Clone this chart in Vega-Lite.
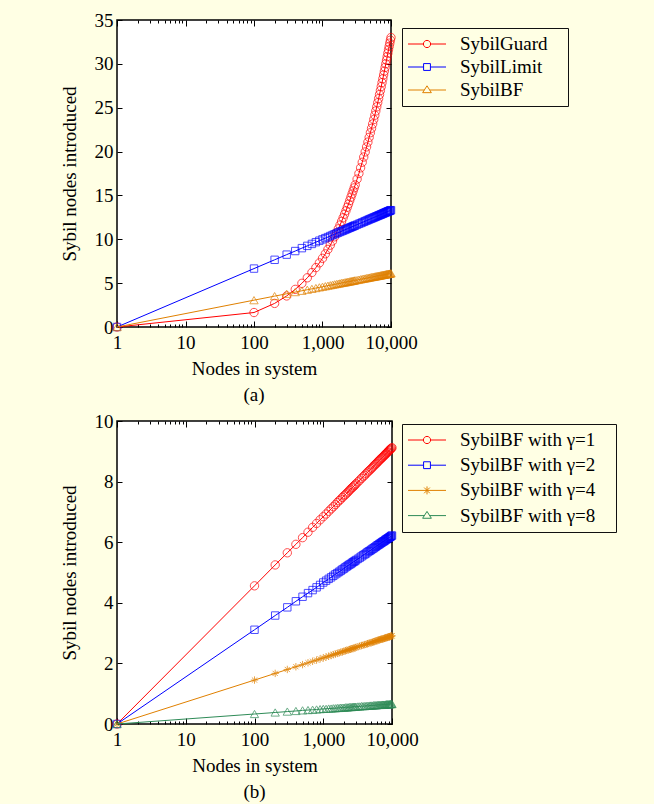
{
"$schema":"https://vega.github.io/schema/vega-lite/v6.json",
"background":"#FFFFE4",
"padding":{"left":59,"top":10,"right":36,"bottom":2},
"spacing":5,
"resolve":{"scale":{"color":"independent","shape":"independent"},"legend":{"color":"independent","shape":"independent"}},
"config":{
 "font":"Liberation Serif",
 "view":{"stroke":"black","strokeWidth":1.5,"fill":"white"},
 "axis":{"domain":false,"grid":false,"tickColor":"black","tickWidth":1,"labelFont":"Liberation Serif","labelFontSize":19,"labelColor":"black","titleFont":"Liberation Serif","titleFontSize":19,"titleFontWeight":"normal","titleColor":"black"},
 "legend":{"orient":"none","labelFont":"Liberation Serif","labelFontSize":19,"labelColor":"black","labelOffset":23,"symbolOffset":9,"labelLimit":400,"symbolSize":361,"symbolStrokeWidth":1,"symbolOpacity":1,"padding":6,"strokeColor":"#111111","strokeWidth":1},
 "title":{"font":"Liberation Serif","fontSize":19,"fontWeight":"normal","color":"black"}
},
"datasets":{
 "legA":[{"s":"SybilGuard"},{"s":"SybilLimit"},{"s":"SybilBF"}],
 "legB":[{"s":"SybilBF with γ=1"},{"s":"SybilBF with γ=2"},{"s":"SybilBF with γ=4"},{"s":"SybilBF with γ=8"}],
 "guard":[{"n":1,"y":0},{"n":100,"y":1.65},{"n":200,"y":2.69},{"n":300,"y":3.54},{"n":400,"y":4.29},{"n":500,"y":4.98},{"n":600,"y":5.61},{"n":700,"y":6.21},{"n":800,"y":6.77},{"n":900,"y":7.31},{"n":1000,"y":7.83},{"n":1100,"y":8.34},{"n":1200,"y":8.85},{"n":1300,"y":9.33},{"n":1400,"y":9.8},{"n":1500,"y":10.28},{"n":1600,"y":10.75},{"n":1700,"y":11.19},{"n":1800,"y":11.62},{"n":1900,"y":12.04},{"n":2000,"y":12.45},{"n":2100,"y":12.86},{"n":2200,"y":13.25},{"n":2300,"y":13.65},{"n":2400,"y":14.02},{"n":2500,"y":14.42},{"n":2600,"y":14.8},{"n":2700,"y":15.16},{"n":2800,"y":15.52},{"n":2900,"y":15.86},{"n":3000,"y":16.2},{"n":3200,"y":16.86},{"n":3400,"y":17.5},{"n":3600,"y":18.15},{"n":3800,"y":18.78},{"n":4000,"y":19.38},{"n":4200,"y":19.96},{"n":4400,"y":20.53},{"n":4600,"y":21.08},{"n":4800,"y":21.62},{"n":5000,"y":22.15},{"n":5200,"y":22.65},{"n":5400,"y":23.15},{"n":5600,"y":23.65},{"n":5800,"y":24.14},{"n":6000,"y":24.63},{"n":6200,"y":25.1},{"n":6400,"y":25.57},{"n":6600,"y":26.04},{"n":6800,"y":26.5},{"n":7000,"y":26.96},{"n":7200,"y":27.41},{"n":7400,"y":27.86},{"n":7600,"y":28.3},{"n":7800,"y":28.74},{"n":8000,"y":29.17},{"n":8200,"y":29.59},{"n":8400,"y":30.01},{"n":8600,"y":30.42},{"n":8800,"y":30.82},{"n":9000,"y":31.22},{"n":9200,"y":31.61},{"n":9400,"y":31.99},{"n":9600,"y":32.36},{"n":9800,"y":32.7},{"n":10000,"y":33}],
 "limit":[{"n":1,"y":0},{"n":100,"y":6.66},{"n":200,"y":7.66},{"n":300,"y":8.25},{"n":400,"y":8.66},{"n":500,"y":8.99},{"n":600,"y":9.25},{"n":700,"y":9.47},{"n":800,"y":9.67},{"n":900,"y":9.84},{"n":1000,"y":9.99},{"n":1100,"y":10.13},{"n":1200,"y":10.25},{"n":1300,"y":10.37},{"n":1400,"y":10.48},{"n":1500,"y":10.58},{"n":1600,"y":10.67},{"n":1700,"y":10.76},{"n":1800,"y":10.84},{"n":1900,"y":10.92},{"n":2000,"y":10.99},{"n":2100,"y":11.06},{"n":2200,"y":11.13},{"n":2300,"y":11.19},{"n":2400,"y":11.26},{"n":2500,"y":11.32},{"n":2600,"y":11.37},{"n":2700,"y":11.43},{"n":2800,"y":11.48},{"n":2900,"y":11.53},{"n":3000,"y":11.58},{"n":3200,"y":11.67},{"n":3400,"y":11.76},{"n":3600,"y":11.84},{"n":3800,"y":11.92},{"n":4000,"y":11.99},{"n":4200,"y":12.07},{"n":4400,"y":12.13},{"n":4600,"y":12.2},{"n":4800,"y":12.26},{"n":5000,"y":12.32},{"n":5200,"y":12.37},{"n":5400,"y":12.43},{"n":5600,"y":12.48},{"n":5800,"y":12.53},{"n":6000,"y":12.58},{"n":6200,"y":12.63},{"n":6400,"y":12.67},{"n":6600,"y":12.72},{"n":6800,"y":12.76},{"n":7000,"y":12.8},{"n":7200,"y":12.84},{"n":7400,"y":12.88},{"n":7600,"y":12.92},{"n":7800,"y":12.96},{"n":8000,"y":13},{"n":8200,"y":13.03},{"n":8400,"y":13.07},{"n":8600,"y":13.1},{"n":8800,"y":13.14},{"n":9000,"y":13.17},{"n":9200,"y":13.2},{"n":9400,"y":13.23},{"n":9600,"y":13.26},{"n":9800,"y":13.29},{"n":10000,"y":13.32}],
 "bfa":[{"n":1,"y":0},{"n":100,"y":3.06},{"n":200,"y":3.52},{"n":300,"y":3.79},{"n":400,"y":3.98},{"n":500,"y":4.13},{"n":600,"y":4.25},{"n":700,"y":4.35},{"n":800,"y":4.44},{"n":900,"y":4.52},{"n":1000,"y":4.59},{"n":1100,"y":4.65},{"n":1200,"y":4.71},{"n":1300,"y":4.76},{"n":1400,"y":4.81},{"n":1500,"y":4.86},{"n":1600,"y":4.9},{"n":1700,"y":4.94},{"n":1800,"y":4.98},{"n":1900,"y":5.02},{"n":2000,"y":5.05},{"n":2100,"y":5.08},{"n":2200,"y":5.11},{"n":2300,"y":5.14},{"n":2400,"y":5.17},{"n":2500,"y":5.2},{"n":2600,"y":5.22},{"n":2700,"y":5.25},{"n":2800,"y":5.27},{"n":2900,"y":5.3},{"n":3000,"y":5.32},{"n":3200,"y":5.36},{"n":3400,"y":5.4},{"n":3600,"y":5.44},{"n":3800,"y":5.48},{"n":4000,"y":5.51},{"n":4200,"y":5.54},{"n":4400,"y":5.57},{"n":4600,"y":5.6},{"n":4800,"y":5.63},{"n":5000,"y":5.66},{"n":5200,"y":5.69},{"n":5400,"y":5.71},{"n":5600,"y":5.73},{"n":5800,"y":5.76},{"n":6000,"y":5.78},{"n":6200,"y":5.8},{"n":6400,"y":5.82},{"n":6600,"y":5.84},{"n":6800,"y":5.86},{"n":7000,"y":5.88},{"n":7200,"y":5.9},{"n":7400,"y":5.92},{"n":7600,"y":5.94},{"n":7800,"y":5.95},{"n":8000,"y":5.97},{"n":8200,"y":5.99},{"n":8400,"y":6},{"n":8600,"y":6.02},{"n":8800,"y":6.04},{"n":9000,"y":6.05},{"n":9200,"y":6.06},{"n":9400,"y":6.08},{"n":9600,"y":6.09},{"n":9800,"y":6.11},{"n":10000,"y":6.12}],
 "g1":[{"n":1,"y":0},{"n":100,"y":4.56},{"n":200,"y":5.25},{"n":300,"y":5.65},{"n":400,"y":5.93},{"n":500,"y":6.15},{"n":600,"y":6.33},{"n":700,"y":6.49},{"n":800,"y":6.62},{"n":900,"y":6.74},{"n":1000,"y":6.84},{"n":1100,"y":6.93},{"n":1200,"y":7.02},{"n":1300,"y":7.1},{"n":1400,"y":7.17},{"n":1500,"y":7.24},{"n":1600,"y":7.31},{"n":1700,"y":7.37},{"n":1800,"y":7.42},{"n":1900,"y":7.48},{"n":2000,"y":7.53},{"n":2100,"y":7.57},{"n":2200,"y":7.62},{"n":2300,"y":7.66},{"n":2400,"y":7.71},{"n":2500,"y":7.75},{"n":2600,"y":7.79},{"n":2700,"y":7.82},{"n":2800,"y":7.86},{"n":2900,"y":7.89},{"n":3000,"y":7.93},{"n":3200,"y":7.99},{"n":3400,"y":8.05},{"n":3600,"y":8.11},{"n":3800,"y":8.16},{"n":4000,"y":8.21},{"n":4200,"y":8.26},{"n":4400,"y":8.31},{"n":4600,"y":8.35},{"n":4800,"y":8.39},{"n":5000,"y":8.43},{"n":5200,"y":8.47},{"n":5400,"y":8.51},{"n":5600,"y":8.55},{"n":5800,"y":8.58},{"n":6000,"y":8.61},{"n":6200,"y":8.65},{"n":6400,"y":8.68},{"n":6600,"y":8.71},{"n":6800,"y":8.74},{"n":7000,"y":8.77},{"n":7200,"y":8.79},{"n":7400,"y":8.82},{"n":7600,"y":8.85},{"n":7800,"y":8.87},{"n":8000,"y":8.9},{"n":8200,"y":8.92},{"n":8400,"y":8.95},{"n":8600,"y":8.97},{"n":8800,"y":8.99},{"n":9000,"y":9.02},{"n":9200,"y":9.04},{"n":9400,"y":9.06},{"n":9600,"y":9.08},{"n":9800,"y":9.1},{"n":10000,"y":9.12}],
 "g2":[{"n":1,"y":0},{"n":100,"y":3.11},{"n":200,"y":3.58},{"n":300,"y":3.85},{"n":400,"y":4.05},{"n":500,"y":4.2},{"n":600,"y":4.32},{"n":700,"y":4.42},{"n":800,"y":4.51},{"n":900,"y":4.59},{"n":1000,"y":4.67},{"n":1100,"y":4.73},{"n":1200,"y":4.79},{"n":1300,"y":4.84},{"n":1400,"y":4.89},{"n":1500,"y":4.94},{"n":1600,"y":4.98},{"n":1700,"y":5.02},{"n":1800,"y":5.06},{"n":1900,"y":5.1},{"n":2000,"y":5.13},{"n":2100,"y":5.17},{"n":2200,"y":5.2},{"n":2300,"y":5.23},{"n":2400,"y":5.26},{"n":2500,"y":5.28},{"n":2600,"y":5.31},{"n":2700,"y":5.34},{"n":2800,"y":5.36},{"n":2900,"y":5.38},{"n":3000,"y":5.41},{"n":3200,"y":5.45},{"n":3400,"y":5.49},{"n":3600,"y":5.53},{"n":3800,"y":5.57},{"n":4000,"y":5.6},{"n":4200,"y":5.63},{"n":4400,"y":5.67},{"n":4600,"y":5.7},{"n":4800,"y":5.72},{"n":5000,"y":5.75},{"n":5200,"y":5.78},{"n":5400,"y":5.8},{"n":5600,"y":5.83},{"n":5800,"y":5.85},{"n":6000,"y":5.88},{"n":6200,"y":5.9},{"n":6400,"y":5.92},{"n":6600,"y":5.94},{"n":6800,"y":5.96},{"n":7000,"y":5.98},{"n":7200,"y":6},{"n":7400,"y":6.02},{"n":7600,"y":6.03},{"n":7800,"y":6.05},{"n":8000,"y":6.07},{"n":8200,"y":6.09},{"n":8400,"y":6.1},{"n":8600,"y":6.12},{"n":8800,"y":6.13},{"n":9000,"y":6.15},{"n":9200,"y":6.16},{"n":9400,"y":6.18},{"n":9600,"y":6.19},{"n":9800,"y":6.21},{"n":10000,"y":6.22}],
 "g4":[{"n":1,"y":0},{"n":100,"y":1.45},{"n":200,"y":1.67},{"n":300,"y":1.8},{"n":400,"y":1.89},{"n":500,"y":1.96},{"n":600,"y":2.02},{"n":700,"y":2.07},{"n":800,"y":2.11},{"n":900,"y":2.15},{"n":1000,"y":2.18},{"n":1100,"y":2.21},{"n":1200,"y":2.24},{"n":1300,"y":2.26},{"n":1400,"y":2.29},{"n":1500,"y":2.31},{"n":1600,"y":2.33},{"n":1700,"y":2.35},{"n":1800,"y":2.37},{"n":1900,"y":2.38},{"n":2000,"y":2.4},{"n":2100,"y":2.42},{"n":2200,"y":2.43},{"n":2300,"y":2.44},{"n":2400,"y":2.46},{"n":2500,"y":2.47},{"n":2600,"y":2.48},{"n":2700,"y":2.49},{"n":2800,"y":2.51},{"n":2900,"y":2.52},{"n":3000,"y":2.53},{"n":3200,"y":2.55},{"n":3400,"y":2.57},{"n":3600,"y":2.59},{"n":3800,"y":2.6},{"n":4000,"y":2.62},{"n":4200,"y":2.63},{"n":4400,"y":2.65},{"n":4600,"y":2.66},{"n":4800,"y":2.68},{"n":5000,"y":2.69},{"n":5200,"y":2.7},{"n":5400,"y":2.71},{"n":5600,"y":2.72},{"n":5800,"y":2.74},{"n":6000,"y":2.75},{"n":6200,"y":2.76},{"n":6400,"y":2.77},{"n":6600,"y":2.78},{"n":6800,"y":2.79},{"n":7000,"y":2.8},{"n":7200,"y":2.8},{"n":7400,"y":2.81},{"n":7600,"y":2.82},{"n":7800,"y":2.83},{"n":8000,"y":2.84},{"n":8200,"y":2.85},{"n":8400,"y":2.85},{"n":8600,"y":2.86},{"n":8800,"y":2.87},{"n":9000,"y":2.87},{"n":9200,"y":2.88},{"n":9400,"y":2.89},{"n":9600,"y":2.9},{"n":9800,"y":2.9},{"n":10000,"y":2.91}],
 "g8":[{"n":1,"y":0},{"n":100,"y":0.33},{"n":200,"y":0.38},{"n":300,"y":0.41},{"n":400,"y":0.43},{"n":500,"y":0.45},{"n":600,"y":0.46},{"n":700,"y":0.47},{"n":800,"y":0.48},{"n":900,"y":0.49},{"n":1000,"y":0.5},{"n":1100,"y":0.5},{"n":1200,"y":0.51},{"n":1300,"y":0.51},{"n":1400,"y":0.52},{"n":1500,"y":0.52},{"n":1600,"y":0.53},{"n":1700,"y":0.53},{"n":1800,"y":0.54},{"n":1900,"y":0.54},{"n":2000,"y":0.54},{"n":2100,"y":0.55},{"n":2200,"y":0.55},{"n":2300,"y":0.55},{"n":2400,"y":0.56},{"n":2500,"y":0.56},{"n":2600,"y":0.56},{"n":2700,"y":0.57},{"n":2800,"y":0.57},{"n":2900,"y":0.57},{"n":3000,"y":0.57},{"n":3200,"y":0.58},{"n":3400,"y":0.58},{"n":3600,"y":0.59},{"n":3800,"y":0.59},{"n":4000,"y":0.59},{"n":4200,"y":0.6},{"n":4400,"y":0.6},{"n":4600,"y":0.6},{"n":4800,"y":0.61},{"n":5000,"y":0.61},{"n":5200,"y":0.61},{"n":5400,"y":0.62},{"n":5600,"y":0.62},{"n":5800,"y":0.62},{"n":6000,"y":0.62},{"n":6200,"y":0.63},{"n":6400,"y":0.63},{"n":6600,"y":0.63},{"n":6800,"y":0.63},{"n":7000,"y":0.63},{"n":7200,"y":0.64},{"n":7400,"y":0.64},{"n":7600,"y":0.64},{"n":7800,"y":0.64},{"n":8000,"y":0.64},{"n":8200,"y":0.65},{"n":8400,"y":0.65},{"n":8600,"y":0.65},{"n":8800,"y":0.65},{"n":9000,"y":0.65},{"n":9200,"y":0.65},{"n":9400,"y":0.66},{"n":9600,"y":0.66},{"n":9800,"y":0.66},{"n":10000,"y":0.66}]
},
"vconcat":[
 {
  "width":274,"height":307,
  "title":{"text":"(a)","orient":"bottom","anchor":"middle","frame":"group","offset":8},
  "layer":[
   {"data":{"name":"legA"},"mark":{"type":"point","filled":false,"opacity":0,"strokeWidth":1},
    "encoding":{
     "color":{"field":"s","type":"nominal","scale":{"domain":["SybilGuard","SybilLimit","SybilBF"],"range":["#FF0000","#0000FF","#E08000"]},"legend":{"title":null,"legendX":285,"legendY":8,"rowPadding":3,"labelExpr":"datum.label + '\u00a0\u00a0\u00a0\u200b'"}},
     "shape":{"field":"s","type":"nominal","scale":{"domain":["SybilGuard","SybilLimit","SybilBF"],"range":["M-2,0H-0.38M0.38,0H2M0.38,0A0.38,0.38,0,1,1,-0.38,0A0.38,0.38,0,1,1,0.38,0Z","M-2,0H-0.36M0.36,0H2M-0.36,-0.36H0.36V0.36H-0.36Z","M-2,0H-0.28M0.28,0H2M0,-0.44L0.46,0.28L-0.46,0.28Z"]},"legend":{"title":null,"legendX":285,"legendY":8,"rowPadding":3,"labelExpr":"datum.label + '\u00a0\u00a0\u00a0\u200b'"}}
    }},
   {"data":{"name":"guard"},
    "encoding":{
     "x":{"field":"n","type":"quantitative","scale":{"type":"log","domain":[1,10000],"nice":false},"axis":{"orient":"bottom","values":[1,10,100,1000,10000],"format":",","tickSize":-6,"labelPadding":12,"labelFlush":false,"labelOverlap":false,"title":"Nodes in system","titlePadding":7}},
     "y":{"field":"y","type":"quantitative","scale":{"domain":[0,35],"nice":false},"axis":{"orient":"left","values":[0,5,10,15,20,25,30,35],"tickSize":-5,"labelPadding":9,"title":"Sybil nodes introduced","titlePadding":15}}},
    "layer":[
     {"mark":{"type":"line","color":"#FF0000","strokeWidth":1}},
     {"mark":{"type":"point","shape":"circle","color":"#FF0000","filled":false,"size":70,"strokeWidth":1}}
    ]},
   {"data":{"name":"limit"},
    "encoding":{
     "x":{"field":"n","type":"quantitative","scale":{"type":"log","domain":[1,10000],"nice":false},"axis":{"orient":"top","values":[1,10,100,1000,10000],"labels":false,"tickSize":-6,"title":null}},
     "y":{"field":"y","type":"quantitative","scale":{"domain":[0,35],"nice":false},"axis":{"orient":"right","values":[0,5,10,15,20,25,30,35],"labels":false,"tickSize":-5,"title":null}}},
    "layer":[
     {"mark":{"type":"line","color":"#0000FF","strokeWidth":1}},
     {"mark":{"type":"point","shape":"square","color":"#0000FF","filled":false,"size":55,"strokeWidth":1}}
    ]},
   {"data":{"name":"bfa"},
    "layer":[
     {"mark":{"type":"line","color":"#E08000","strokeWidth":1},
      "encoding":{
       "x":{"field":"n","type":"quantitative","scale":{"type":"log","domain":[1,10000],"nice":false},"axis":{"orient":"bottom","values":[2,3,4,5,6,7,8,9,20,30,40,50,60,70,80,90,200,300,400,500,600,700,800,900,2000,3000,4000,5000,6000,7000,8000,9000],"labels":false,"tickSize":-3,"title":null}},
       "y":{"field":"y","type":"quantitative","scale":{"domain":[0,35],"nice":false},"axis":null}}},
     {"mark":{"type":"point","shape":"triangle-up","color":"#E08000","filled":false,"size":70,"strokeWidth":1},
      "encoding":{
       "x":{"field":"n","type":"quantitative","scale":{"type":"log","domain":[1,10000],"nice":false},"axis":{"orient":"top","values":[2,3,4,5,6,7,8,9,20,30,40,50,60,70,80,90,200,300,400,500,600,700,800,900,2000,3000,4000,5000,6000,7000,8000,9000],"labels":false,"tickSize":-3,"title":null}},
       "y":{"field":"y","type":"quantitative","scale":{"domain":[0,35],"nice":false},"axis":null}}}
    ],
    "resolve":{"axis":{"x":"independent","y":"independent"}}}
  ],
  "resolve":{"axis":{"x":"independent","y":"independent"}}
 },
 {
  "width":275,"height":303,
  "title":{"text":"(b)","orient":"bottom","anchor":"middle","frame":"group","offset":8},
  "layer":[
   {"data":{"name":"legB"},"mark":{"type":"point","filled":false,"opacity":0,"strokeWidth":1},
    "encoding":{
     "color":{"field":"s","type":"nominal","scale":{"domain":["SybilBF with γ=1","SybilBF with γ=2","SybilBF with γ=4","SybilBF with γ=8"],"range":["#FF0000","#0000FF","#E08000","#2E8B57"]},"legend":{"title":null,"legendX":285,"legendY":3,"rowPadding":5.2,"labelExpr":"datum.label + '\u00a0\u00a0\u00a0\u200b'"}},
     "shape":{"field":"s","type":"nominal","scale":{"domain":["SybilBF with γ=1","SybilBF with γ=2","SybilBF with γ=4","SybilBF with γ=8"],"range":["M-2,0H-0.38M0.38,0H2M0.38,0A0.38,0.38,0,1,1,-0.38,0A0.38,0.38,0,1,1,0.38,0Z","M-2,0H-0.36M0.36,0H2M-0.36,-0.36H0.36V0.36H-0.36Z","M-2,0H2M0,-0.42V0.42M-0.3,-0.3L0.3,0.3M-0.3,0.3L0.3,-0.3","M-2,0H-0.28M0.28,0H2M0,-0.44L0.46,0.28L-0.46,0.28Z"]},"legend":{"title":null,"legendX":285,"legendY":3,"rowPadding":5.2,"labelExpr":"datum.label + '\u00a0\u00a0\u00a0\u200b'"}}
    }},
   {"data":{"name":"g1"},
    "encoding":{
     "x":{"field":"n","type":"quantitative","scale":{"type":"log","domain":[1,10000],"nice":false},"axis":{"orient":"bottom","values":[1,10,100,1000,10000],"format":",","tickSize":-6,"labelPadding":12,"labelFlush":false,"labelOverlap":false,"title":"Nodes in system","titlePadding":7}},
     "y":{"field":"y","type":"quantitative","scale":{"domain":[0,10],"nice":false},"axis":{"orient":"left","values":[0,2,4,6,8,10],"tickSize":-5,"labelPadding":9,"title":"Sybil nodes introduced","titlePadding":15}}},
    "layer":[
     {"mark":{"type":"line","color":"#FF0000","strokeWidth":1}},
     {"mark":{"type":"point","shape":"circle","color":"#FF0000","filled":false,"size":70,"strokeWidth":1}}
    ]},
   {"data":{"name":"g2"},
    "encoding":{
     "x":{"field":"n","type":"quantitative","scale":{"type":"log","domain":[1,10000],"nice":false},"axis":{"orient":"top","values":[1,10,100,1000,10000],"labels":false,"tickSize":-6,"title":null}},
     "y":{"field":"y","type":"quantitative","scale":{"domain":[0,10],"nice":false},"axis":{"orient":"right","values":[0,2,4,6,8,10],"labels":false,"tickSize":-5,"title":null}}},
    "layer":[
     {"mark":{"type":"line","color":"#0000FF","strokeWidth":1}},
     {"mark":{"type":"point","shape":"square","color":"#0000FF","filled":false,"size":55,"strokeWidth":1}}
    ]},
   {"data":{"name":"g4"},
    "layer":[
     {"mark":{"type":"line","color":"#E08000","strokeWidth":1},
      "encoding":{
       "x":{"field":"n","type":"quantitative","scale":{"type":"log","domain":[1,10000],"nice":false},"axis":{"orient":"bottom","values":[2,3,4,5,6,7,8,9,20,30,40,50,60,70,80,90,200,300,400,500,600,700,800,900,2000,3000,4000,5000,6000,7000,8000,9000],"labels":false,"tickSize":-3,"title":null}},
       "y":{"field":"y","type":"quantitative","scale":{"domain":[0,10],"nice":false},"axis":null}}},
     {"mark":{"type":"point","shape":"M-1,0H1M0,-1V1M-0.7,-0.7L0.7,0.7M-0.7,0.7L0.7,-0.7","color":"#E08000","filled":false,"size":55,"strokeWidth":1},
      "encoding":{
       "x":{"field":"n","type":"quantitative","scale":{"type":"log","domain":[1,10000],"nice":false},"axis":{"orient":"top","values":[2,3,4,5,6,7,8,9,20,30,40,50,60,70,80,90,200,300,400,500,600,700,800,900,2000,3000,4000,5000,6000,7000,8000,9000],"labels":false,"tickSize":-3,"title":null}},
       "y":{"field":"y","type":"quantitative","scale":{"domain":[0,10],"nice":false},"axis":null}}}
    ],
    "resolve":{"axis":{"x":"independent","y":"independent"}}},
   {"data":{"name":"g8"},
    "encoding":{
     "x":{"field":"n","type":"quantitative","scale":{"type":"log","domain":[1,10000],"nice":false},"axis":null},
     "y":{"field":"y","type":"quantitative","scale":{"domain":[0,10],"nice":false},"axis":null}},
    "layer":[
     {"mark":{"type":"line","color":"#2E8B57","strokeWidth":1}},
     {"mark":{"type":"point","shape":"triangle-up","color":"#2E8B57","filled":false,"size":70,"strokeWidth":1}}
    ]}
  ],
  "resolve":{"axis":{"x":"independent","y":"independent"}}
 }
]
}
